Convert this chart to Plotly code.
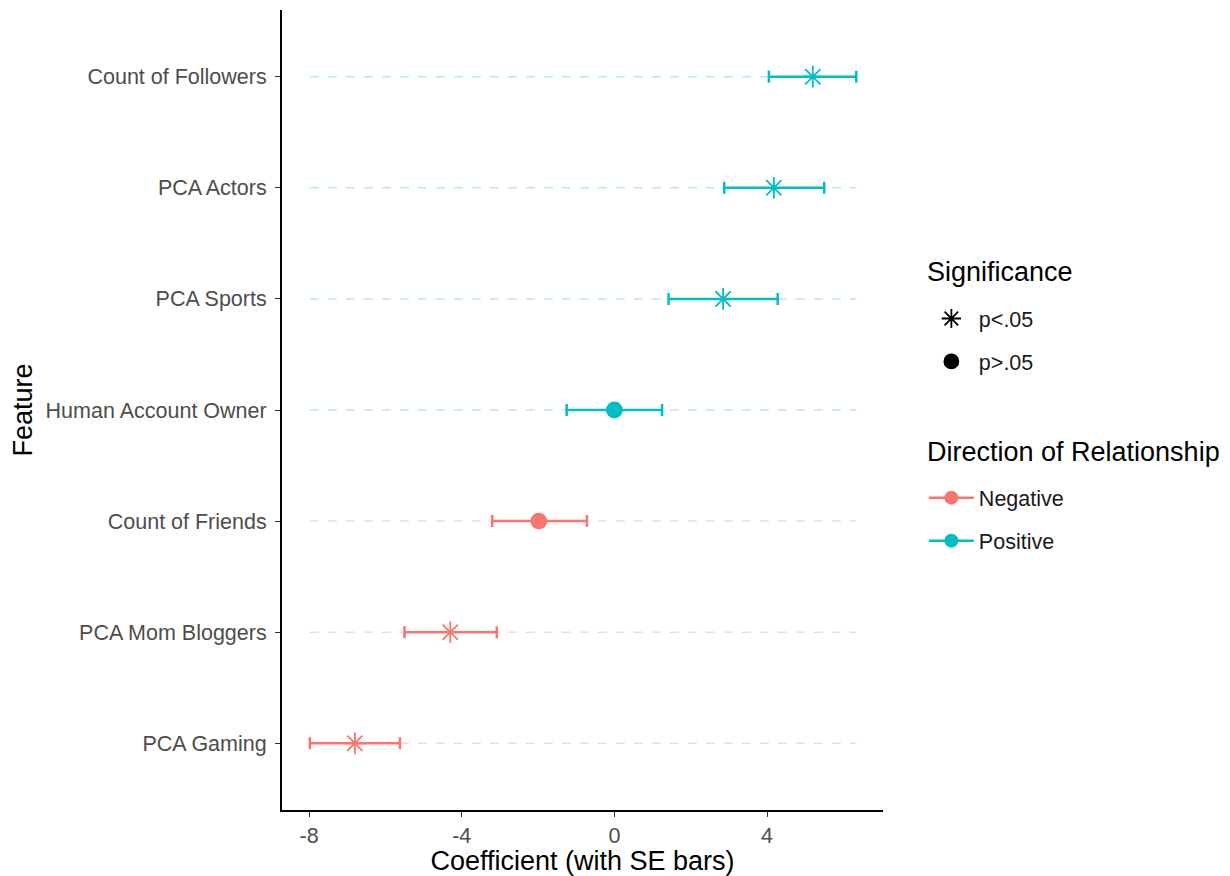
import plotly.graph_objects as go

features = ["Count of Followers", "PCA Actors", "PCA Sports", "Human Account Owner",
            "Count of Friends", "PCA Mom Bloggers", "PCA Gaming"]
coef = [5.2, 4.18, 2.85, 0.0, -1.98, -4.3, -6.8]
lower = [4.05, 2.88, 1.42, -1.25, -3.2, -5.5, -7.98]
upper = [6.34, 5.5, 4.28, 1.25, -0.72, -3.08, -5.62]
direction = ["Positive", "Positive", "Positive", "Positive", "Negative", "Negative", "Negative"]
significance = ["p<.05", "p<.05", "p<.05", "p>.05", "p>.05", "p<.05", "p<.05"]

colors = {"Negative": "#F8766D", "Positive": "#00BFC4"}
light = {"Negative": "rgba(248,118,109,0.3)", "Positive": "rgba(0,191,196,0.3)"}
symbols = {"p<.05": "asterisk-open", "p>.05": "circle"}
sizes = {"p<.05": 18, "p>.05": 15}

fig = go.Figure()

seg_lo = min(lower)
seg_hi = max(upper)

# dashed guide lines
for d in ["Negative", "Positive"]:
    xs, ys = [], []
    for f, dd in zip(features, direction):
        if dd == d:
            xs += [seg_lo, seg_hi, None]
            ys += [f, f, None]
    fig.add_trace(go.Scatter(x=xs, y=ys, mode="lines", showlegend=False, hoverinfo="skip",
                             line=dict(color=light[d], width=1.5, dash="9px,9px")))

# points with error bars
for d in ["Negative", "Positive"]:
    for s in ["p<.05", "p>.05"]:
        idx = [i for i in range(len(features)) if direction[i] == d and significance[i] == s]
        if not idx:
            continue
        fig.add_trace(go.Scatter(
            x=[coef[i] for i in idx], y=[features[i] for i in idx], mode="markers",
            showlegend=False,
            marker=dict(symbol=symbols[s], size=sizes[s], color=colors[d],
                        line=dict(color=colors[d], width=1.8)),
            error_x=dict(type="data", symmetric=False,
                         array=[upper[i] - coef[i] for i in idx],
                         arrayminus=[coef[i] - lower[i] for i in idx],
                         color=colors[d], thickness=2.5, width=6)))

# legend: significance
for k, s in enumerate(["p<.05", "p>.05"]):
    fig.add_trace(go.Scatter(x=[None], y=[None], mode="markers", name=s, legend="legend",
                             legendgroup="s" + str(k),
                             marker=dict(symbol=symbols[s], size=sizes[s] - 1, color="black",
                                         line=dict(color="black", width=1.8))))
# legend: direction
for k, d in enumerate(["Negative", "Positive"]):
    fig.add_trace(go.Scatter(x=[None], y=[None], mode="lines+markers", name=d, legend="legend2",
                             legendgroup="d" + str(k),
                             marker=dict(symbol="circle", size=14, color=colors[d]),
                             line=dict(color=colors[d], width=2.5)))

legend_common = dict(xanchor="left", yanchor="top", font=dict(size=21.5, color="#1a1a1a"),
                     tracegroupgap=12, itemwidth=45, bgcolor="rgba(0,0,0,0)")

fig.update_layout(
    width=1222, height=868,
    margin=dict(l=274, r=347, t=2, b=66),
    plot_bgcolor="white", paper_bgcolor="white",
    font=dict(family="Liberation Sans, Arial, sans-serif", color="#1a1a1a"),
    xaxis=dict(range=[-8.71, 7.04], tickvals=[-8, -4, 0, 4], ticktext=["-8", "-4", "0", "4"],
               showgrid=False, zeroline=False, showline=True, linecolor="black", linewidth=2,
               ticks="outside", ticklen=5, tickwidth=1.3, tickcolor="#333333",
               tickfont=dict(size=21.5, color="#4D4D4D"),
               title=dict(text="Coefficient (with SE bars)", font=dict(size=27, color="black"),
                          standoff=4)),
    yaxis=dict(type="category", categoryorder="array", categoryarray=features[::-1],
               range=[-0.6, 6.6], showgrid=False, zeroline=False, showline=True,
               linecolor="black", linewidth=2, ticks="outside", ticklen=5, tickwidth=1.3,
               tickcolor="#333333", tickfont=dict(size=21.5, color="#4D4D4D"),
               ticklabelstandoff=4,
               title=dict(text="Feature", font=dict(size=27, color="black"), standoff=6)),
    legend=dict(x=1.068, y=0.640, **legend_common),
    legend2=dict(x=1.068, y=0.416, **legend_common),
    annotations=[
        dict(text="Significance", xref="paper", yref="paper", x=1.07, y=0.6725,
             xanchor="left", yanchor="middle", showarrow=False,
             font=dict(size=27, color="black")),
        dict(text="Direction of Relationship", xref="paper", yref="paper", x=1.07, y=0.4475,
             xanchor="left", yanchor="middle", showarrow=False,
             font=dict(size=27, color="black")),
    ],
)

fig.write_html("out.html")
